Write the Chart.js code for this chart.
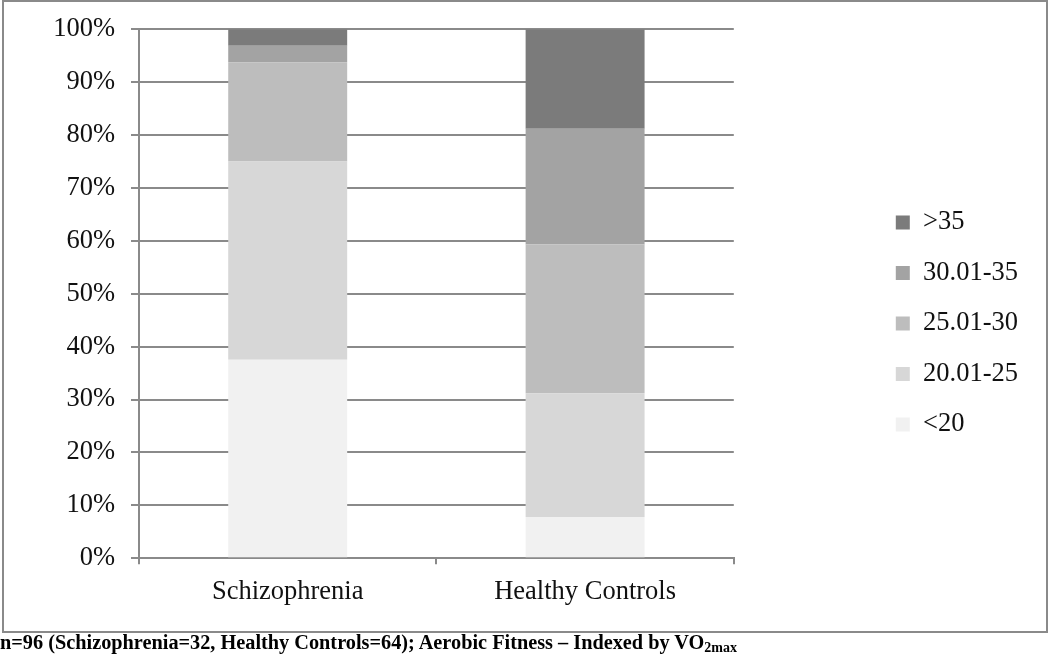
<!DOCTYPE html>
<html>
<head>
<meta charset="utf-8">
<script src="https://cdn.jsdelivr.net/npm/chart.js@4/dist/chart.umd.min.js"></script>
<style>
  html, body { margin: 0; padding: 0; background: #fff; }
  #wrap { position: relative; width: 1050px; height: 658px; overflow: hidden; }
  #chart { position: absolute; left: 0; top: 0; }
  #frame {
    position: absolute; left: 2px; top: 0; width: 1046px; height: 633px;
    box-sizing: border-box; border: 2px solid #8a8a8a; pointer-events: none;
  }
  #caption {
    position: absolute; left: 0; top: 631px; white-space: nowrap;
    font-family: "Liberation Serif", serif; font-weight: bold; font-size: 20.3px;
    color: #000;
  }
  #caption sub { font-size: 14px; vertical-align: -3px; }
</style>
</head>
<body>
<div id="wrap">
  <canvas id="chart" width="1050" height="632"></canvas>
  <div id="frame"></div>
  <div id="caption">n=96 (Schizophrenia=32, Healthy Controls=64); Aerobic Fitness – Indexed by VO<sub>2max</sub></div>
</div>
<script>
// ----- Data -----
const categories = ["Schizophrenia", "Healthy Controls"];
const bandLabels = ["<20", "20.01-25", "25.01-30", "30.01-35", ">35"];
const schizophreniaPct = [37.5, 37.5, 18.75, 3.125, 3.125];
const controlsPct = [7.8, 23.4, 28.1, 21.9, 18.8];
const bandColors = ["#f1f1f1", "#d7d7d7", "#bdbdbd", "#a3a3a3", "#7b7b7b"];
const yMax = 100;
const yStep = 10;

// ----- Styles -----
const fontFamily = "'Liberation Serif', serif";
const lineColor = "#8a8a8a";

const datasets = bandLabels.map((label, i) => ({
  label: label,
  data: [schizophreniaPct[i], controlsPct[i]],
  backgroundColor: bandColors[i],
  borderWidth: 0,
}));

new Chart(document.getElementById("chart").getContext("2d"), {
  type: "bar",
  data: { labels: categories, datasets: datasets },
  options: {
    responsive: false,
    animation: false,
    devicePixelRatio: 1,
    layout: { padding: { left: 0, top: 27, right: 22, bottom: 12 } },
    datasets: { bar: { barPercentage: 0.4, categoryPercentage: 1.0 } },
    plugins: {
      tooltip: { enabled: false },
      legend: {
        position: "right",
        reverse: true,
        labels: {
          boxWidth: 14,
          boxHeight: 14,
          padding: 24,
          color: "#111",
          font: { family: fontFamily, size: 26.5 },
        },
      },
    },
    scales: {
      x: {
        stacked: true,
        grid: {
          offset: true,
          drawOnChartArea: false,
          drawTicks: true,
          tickLength: 6,
          color: lineColor,
          lineWidth: 2,
        },
        border: { color: lineColor, width: 2 },
        ticks: { color: "#111", padding: 12, font: { family: fontFamily, size: 26.5 } },
      },
      y: {
        stacked: true,
        min: 0,
        max: yMax,
        afterFit: (s) => { s.width = 139; },
        grid: { color: lineColor, lineWidth: 2, tickLength: 8 },
        border: { color: lineColor, width: 2 },
        ticks: {
          stepSize: yStep,
          padding: 16,
          color: "#111",
          font: { family: fontFamily, size: 26.5, lineHeight: 1 },
          callback: (v) => v + "%",
        },
      },
      // empty axis that only keeps the gap between plot and legend
      gap: {
        type: "linear",
        position: "right",
        afterFit: (s) => { s.width = 138; },
        grid: { display: false },
        border: { display: false },
        ticks: { display: false },
      },
    },
  },
});
</script>
</body>
</html>
